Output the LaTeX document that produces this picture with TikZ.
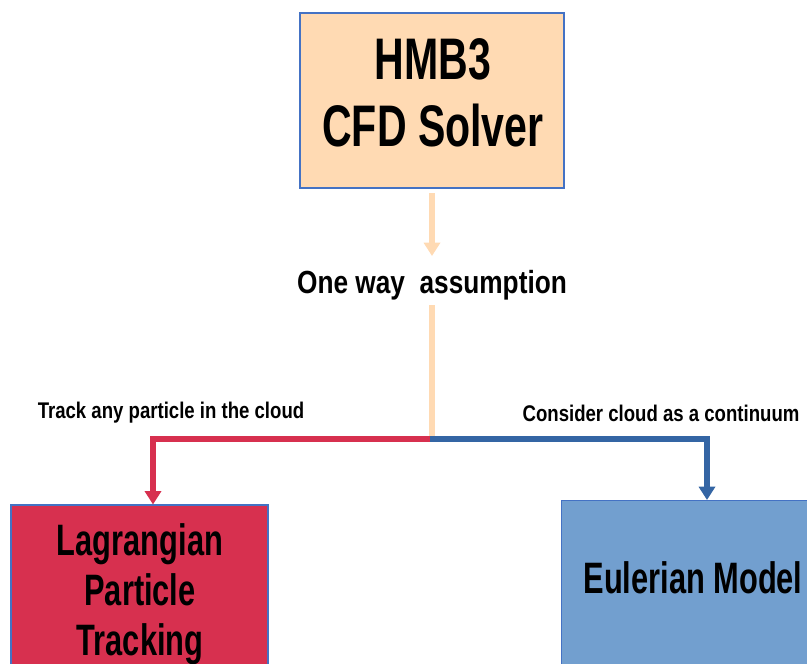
\documentclass[tikz,border=0pt]{standalone}
\usepackage{fontspec}
\setmainfont{Liberation Sans}[FakeStretch=0.82]
\newfontfamily\boxfont{Liberation Sans}[FakeStretch=0.70]
\usetikzlibrary{arrows.meta}
\definecolor{peach}{HTML}{FFDAB3}
\definecolor{redbox}{HTML}{D7304F}
\definecolor{bluebox}{HTML}{729FCF}
\definecolor{blueline}{HTML}{3465A4}
\definecolor{edge}{HTML}{4472C4}
\tikzset{
  box/.style={draw=edge, line width=0.8pt, inner sep=0pt},
  boxtext/.style={inner sep=0pt, align=center},
  flow/.style={line width=4.5pt, -{Triangle[length=10pt,width=12pt]}},
  lbl/.style={font=\bfseries\fontsize{17}{19}\selectfont, inner sep=0pt}
}
\begin{document}
\begin{tikzpicture}[x=0.75pt,y=-0.75pt]
\useasboundingbox (0,0) rectangle (807,664);
\clip (0,0) rectangle (807,664);
\node[box, fill=peach, minimum width=264*0.75pt, minimum height=175*0.75pt] (hmb) at (432,100.5) {};
\node[boxtext, font=\boxfont\bfseries\fontsize{44}{50}\selectfont] (hmbtxt) at (433,93) {HMB3\\CFD Solver};
\node[font=\bfseries\fontsize{24}{28}\selectfont, inner sep=0pt] (ow) at (432,285) {One way\ \ assumption};
\coordinate (bend) at (432,439);
\node[box, fill=redbox, minimum width=257*0.75pt, minimum height=172*0.75pt] (lag) at (139.5,591) {};
\node[boxtext, font=\boxfont\bfseries\fontsize{33}{37.5}\selectfont] (lagtxt) at (140,594) {Lagrangian\\Particle\\Tracking};
\node[box, fill=bluebox, minimum width=260*0.75pt, minimum height=200*0.75pt, anchor=north west] (eul) at (561,500) {};
\node[boxtext, font=\boxfont\bfseries\fontsize{33}{37.5}\selectfont] (eultxt) at (693,578) {Eulerian Model};
\draw[flow, draw=peach] (432,193) -- (432,256);
\draw[line width=4.5pt, draw=peach] (432,305) -- (bend);
\draw[flow, draw=redbox] (434,439) -| (lag.north -| 153,0);
\draw[flow, draw=blueline] (430,439) -| (eul.north -| 707,0);
\node[lbl] (tl) at (171,413) {Track any particle in the cloud};
\node[lbl] (tr) at (661,413) {Consider cloud as a continuum};
\end{tikzpicture}
\end{document}
